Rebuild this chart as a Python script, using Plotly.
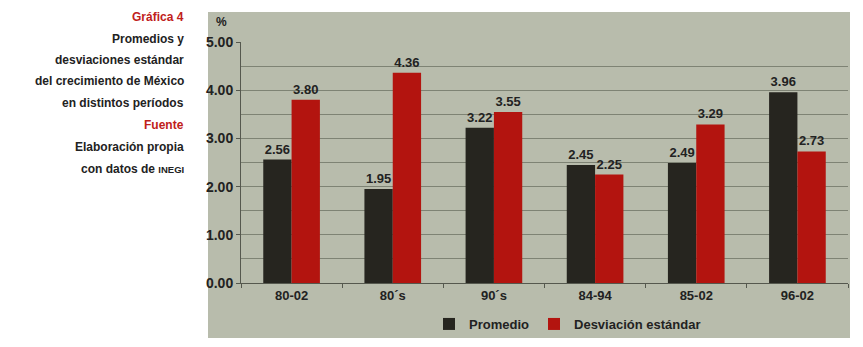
import plotly.graph_objects as go

categories = ["80-02", "80´s", "90´s", "84-94", "85-02", "96-02"]
promedio = [2.56, 1.95, 3.22, 2.45, 2.49, 3.96]
desviacion = [3.80, 4.36, 3.55, 2.25, 3.29, 2.73]
series_names = ["Promedio", "Desviación estándar"]
y_ticks = [0, 1, 2, 3, 4, 5]
y_tick_labels = ["0.00", "1.00", "2.00", "3.00", "4.00", "5.00"]

W, H = 863, 347
L, R, T, B = 241, 15, 42, 64
PW, PH = W - L - R, H - T - B

def px(x):
    return (x - L) / PW

def py(y):
    return (H - B - y) / PH

FONT = "Liberation Sans, Arial, sans-serif"
DARK = "#26251f"
RED = "#b3140f"
TXT = "#222222"
TRED = "#c0201a"

fig = go.Figure()
fig.add_trace(go.Bar(
    x=categories, y=promedio, name="<b>" + series_names[0] + "</b>",
    marker=dict(color=DARK, line=dict(width=0)),
    text=promedio, texttemplate="<b>%{y:.2f}</b>", textposition="outside",
    textfont=dict(family=FONT, size=13, color=TXT), cliponaxis=False,
))
fig.add_trace(go.Bar(
    x=categories, y=desviacion, name="<b>" + series_names[1] + "</b>",
    marker=dict(color=RED, line=dict(width=0)),
    text=desviacion, texttemplate="<b>%{y:.2f}</b>", textposition="outside",
    textfont=dict(family=FONT, size=13, color=TXT), cliponaxis=False,
))

# gray panel behind the chart
fig.add_shape(type="rect", xref="paper", yref="paper",
              x0=px(208), x1=px(850), y0=py(338), y1=py(12),
              fillcolor="#b8bcac", line=dict(width=0), layer="below")

# left text block
lines = [
    ("Gráfica 4", TRED, 17),
    ("Promedios y", TXT, 39),
    ("desviaciones estándar", TXT, 60),
    ("del crecimiento de México", TXT, 81),
    ("en distintos períodos", TXT, 103),
    ("Fuente", TRED, 125),
    ("Elaboración propia", TXT, 147),
    ("con datos de <span style='font-size:9.5px'>INEGI</span>", TXT, 169),
]
for txt, col, yy in lines:
    fig.add_annotation(text="<b>" + txt + "</b>", xref="paper", yref="paper",
                       x=px(186), y=py(yy), xanchor="right", yanchor="middle",
                       showarrow=False, font=dict(family=FONT, size=12, color=col))

fig.add_annotation(text="<b>%</b>", xref="paper", yref="paper",
                   x=px(221), y=py(22), xanchor="center", yanchor="middle",
                   showarrow=False, font=dict(family=FONT, size=12, color=TXT))

fig.update_layout(
    width=W, height=H,
    margin=dict(l=L, r=R, t=T, b=B, autoexpand=False),
    paper_bgcolor="white", plot_bgcolor="rgba(0,0,0,0)",
    barmode="group", bargap=0.44, bargroupgap=0,
    font=dict(family=FONT, size=13, color=TXT),
    showlegend=True,
    legend=dict(orientation="h", x=px(429), y=py(309), xanchor="left", yanchor="top",
                bgcolor="rgba(0,0,0,0)", font=dict(family=FONT, size=13, color=TXT),
                itemwidth=30, tracegroupgap=0),
    xaxis=dict(type="category", showgrid=False, showline=True, linecolor="#55584e", linewidth=1,
               ticks="outside", tickson="boundaries", ticklen=4, tickcolor="#55584e",
               tickfont=dict(family=FONT, size=13, color=TXT),
               tickprefix="<b>", ticksuffix="</b>"),
    yaxis=dict(range=[0, 5], tickvals=y_ticks, ticktext=["<b>" + t + "</b>" for t in y_tick_labels],
               showgrid=True, gridcolor="#7e8374", gridwidth=1,
               minor=dict(dtick=0.5, tick0=0, showgrid=True, gridcolor="#7e8374", gridwidth=1),
               showline=True, linecolor="#55584e", linewidth=1,
               ticks="outside", ticklen=4, tickcolor="#55584e",
               tickfont=dict(family=FONT, size=14, color=TXT), zeroline=False),
)

fig.write_html("out.html", config={"displayModeBar": False},
               post_script="document.body.style.margin='0';")
